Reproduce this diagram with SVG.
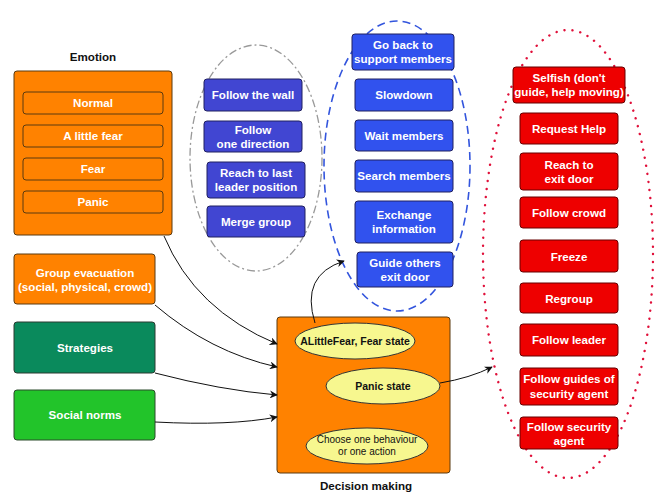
<svg xmlns="http://www.w3.org/2000/svg" width="663" height="498" viewBox="0 0 663 498">
<defs>
<marker id="ah" viewBox="0 0 10 10" refX="9" refY="5" markerWidth="8" markerHeight="8" orient="auto" markerUnits="userSpaceOnUse"><path d="M0,0 L10,5 L0,10 L3,5 Z" fill="#111"/></marker>
</defs>
<style>
text{font-family:"Liberation Sans",Arial,sans-serif;font-size:11.6px;font-weight:bold;text-anchor:middle}
.w{fill:#fff}
.k{fill:#111}
.or{fill:#FF8200;stroke:#5a3a10;stroke-width:1}
.dg{fill:#0A8A5C;stroke:#2a3a30;stroke-width:1}
.lg{fill:#22C42A;stroke:#2a4a2a;stroke-width:1}
.b1{fill:#4146D2;stroke:#202060;stroke-width:1}
.b2{fill:#3152EE;stroke:#202060;stroke-width:1}
.rd{fill:#EE0000;stroke:#600;stroke-width:1}
.ye{fill:#F7F78F;stroke:#333;stroke-width:1}
.c{fill:none;stroke:#111;stroke-width:1;marker-end:url(#ah)}
</style>
<rect width="663" height="498" fill="#fff"/>
<ellipse cx="256" cy="158" rx="66" ry="113" fill="none" stroke="#999" stroke-width="1.3" stroke-dasharray="8,3,2,3"/>
<ellipse cx="397" cy="166" rx="73" ry="145" fill="none" stroke="#3355DD" stroke-width="1.6" stroke-dasharray="8,5"/>
<ellipse cx="568" cy="254" rx="85" ry="224" fill="none" stroke="#E0103A" stroke-width="2.4" stroke-dasharray="0.1,8" stroke-linecap="round"/>
<g id="emotion">
<text class="k" x="93" y="61">Emotion</text>
<rect class="or" x="14" y="71" width="158" height="164" rx="3"/>
<rect class="or" x="23" y="92" width="140" height="22" rx="3"/><text class="w" x="93" y="107">Normal</text>
<rect class="or" x="23" y="125" width="140" height="22" rx="3"/><text class="w" x="93" y="140">A little fear</text>
<rect class="or" x="23" y="158" width="140" height="22" rx="3"/><text class="w" x="93" y="173">Fear</text>
<rect class="or" x="23" y="191" width="140" height="22" rx="3"/><text class="w" x="93" y="206">Panic</text>
</g>
<g id="group-evacuation"><rect class="or" x="14" y="254" width="141" height="50" rx="3"/><text class="w" x="85" y="277">Group evacuation</text><text class="w" x="85" y="291">(social, physical, crowd)</text></g>
<g id="strategies"><rect class="dg" x="14" y="322" width="141" height="51" rx="3"/><text class="w" x="85" y="352">Strategies</text></g>
<g id="social-norms"><rect class="lg" x="14" y="390" width="141" height="50" rx="3"/><text class="w" x="85" y="419">Social norms</text></g>
<g id="follow-wall"><rect class="b1" x="204" y="79" width="98" height="32" rx="3"/><text class="w" x="253" y="99">Follow the wall</text></g>
<g id="follow-direction"><rect class="b1" x="204" y="121" width="98" height="31" rx="3"/><text class="w" x="253" y="134">Follow</text><text class="w" x="253" y="148">one direction</text></g>
<g id="reach-leader"><rect class="b1" x="207" y="162" width="98" height="36" rx="3"/><text class="w" x="256" y="177">Reach to last</text><text class="w" x="256" y="191">leader position</text></g>
<g id="merge-group"><rect class="b1" x="207" y="206" width="98" height="31" rx="3"/><text class="w" x="256" y="226">Merge group</text></g>
<g id="go-back"><rect class="b2" x="352" y="34" width="102" height="36" rx="3"/><text class="w" x="403" y="49">Go back to</text><text class="w" x="403" y="63">support members</text></g>
<g id="slowdown"><rect class="b2" x="355" y="79" width="98" height="32" rx="3"/><text class="w" x="404" y="99">Slowdown</text></g>
<g id="wait-members"><rect class="b2" x="355" y="120" width="98" height="31" rx="3"/><text class="w" x="404" y="140">Wait members</text></g>
<g id="search-members"><rect class="b2" x="355" y="160" width="98" height="32" rx="3"/><text class="w" x="404" y="180">Search members</text></g>
<g id="exchange-info"><rect class="b2" x="355" y="201" width="98" height="42" rx="3"/><text class="w" x="404" y="219">Exchange</text><text class="w" x="404" y="233">information</text></g>
<g id="guide-others"><rect class="b2" x="357" y="252" width="96" height="35" rx="3"/><text class="w" x="405" y="267">Guide others</text><text class="w" x="405" y="281">exit door</text></g>
<g id="selfish"><rect class="rd" x="513" y="67" width="112" height="36" rx="3"/><text class="w" x="569" y="82">Selfish (don't</text><text class="w" x="569" y="96">guide, help moving)</text></g>
<g id="request-help"><rect class="rd" x="520" y="113" width="98" height="31" rx="3"/><text class="w" x="569" y="133">Request Help</text></g>
<g id="reach-exit"><rect class="rd" x="520" y="153" width="98" height="37" rx="3"/><text class="w" x="569" y="169">Reach to</text><text class="w" x="569" y="183">exit door</text></g>
<g id="follow-crowd"><rect class="rd" x="520" y="197" width="98" height="31" rx="3"/><text class="w" x="569" y="217">Follow crowd</text></g>
<g id="freeze"><rect class="rd" x="520" y="240" width="98" height="32" rx="3"/><text class="w" x="569" y="261">Freeze</text></g>
<g id="regroup"><rect class="rd" x="520" y="283" width="98" height="30" rx="3"/><text class="w" x="569" y="303">Regroup</text></g>
<g id="follow-leader"><rect class="rd" x="520" y="324" width="98" height="32" rx="3"/><text class="w" x="569" y="344">Follow leader</text></g>
<g id="follow-guides"><rect class="rd" x="520" y="368" width="98" height="37" rx="3"/><text class="w" x="569" y="383">Follow guides of</text><text class="w" x="569" y="398">security agent</text></g>
<g id="follow-security"><rect class="rd" x="520" y="417" width="98" height="32" rx="3"/><text class="w" x="569" y="431">Follow security</text><text class="w" x="569" y="445">agent</text></g>
<g id="decision-making">
<rect class="or" x="277" y="317" width="173" height="156" rx="3"/>
<text class="k" x="366" y="490">Decision making</text>
<ellipse class="ye" cx="355" cy="341" rx="60" ry="18"/><text class="k" x="355" y="345" style="font-size:10.5px">ALittleFear, Fear state</text>
<ellipse class="ye" cx="383" cy="386" rx="57" ry="18"/><text class="k" x="383" y="390" style="font-size:10.5px">Panic state</text>
<ellipse class="ye" cx="367" cy="446" rx="61" ry="18"/><text class="k" x="367" y="443" style="font-size:10px;font-weight:normal">Choose one behaviour</text><text class="k" x="367" y="455" style="font-size:10px;font-weight:normal">or one action</text>
</g>
<g id="connectors">
<path class="c" d="M164,236 Q195,310 277,344"/>
<path class="c" d="M155,305 Q210,352 277,367"/>
<path class="c" d="M155,373 Q220,390 277,395"/>
<path class="c" d="M155,422 Q230,426 277,417"/>
<path class="c" d="M315,323 Q300,275 344,261"/>
<path class="c" d="M440,383 Q470,378 492,367"/>
</g>
</svg>
